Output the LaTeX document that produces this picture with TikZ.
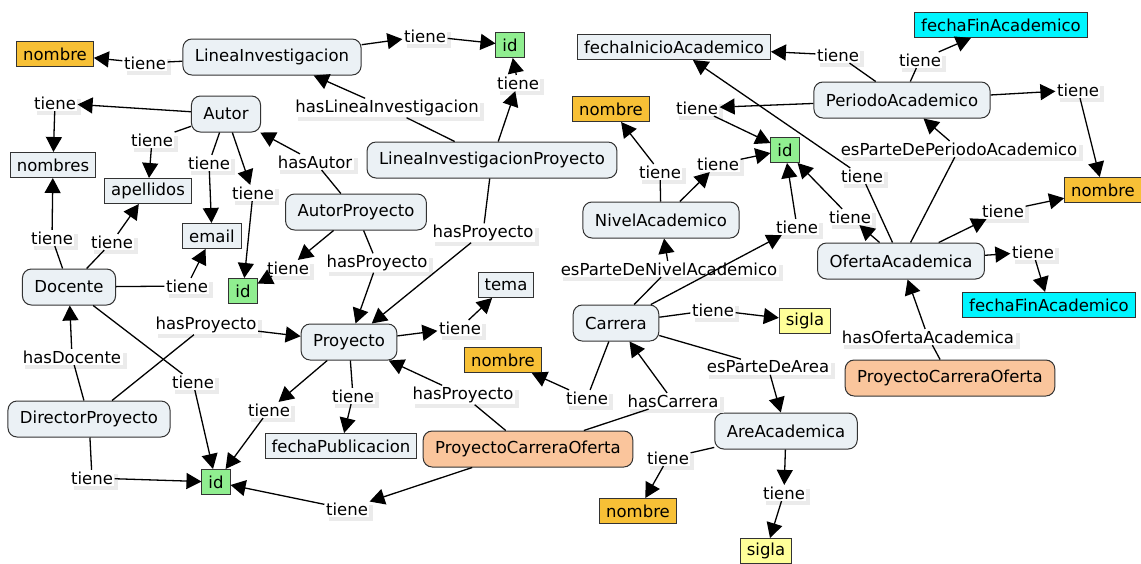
\documentclass[tikz,border=0pt]{standalone}
\usepackage{fontspec}
\setmainfont{DejaVu Sans}
\usetikzlibrary{arrows.meta,shadows}

\definecolor{conceptfill}{HTML}{EBF1F5}
\definecolor{ofertafill}{HTML}{FAC59C}
\definecolor{nombrefill}{HTML}{F7C036}
\definecolor{idfill}{HTML}{90EE90}
\definecolor{siglafill}{HTML}{FFFF99}
\definecolor{fechafill}{HTML}{00F5FF}

\begin{document}
\begin{tikzpicture}[x=1pt, y=-1pt,
        txt/.style={font=\fontsize{16.5}{19}\selectfont},
        concept/.style={txt, draw=black!80, line width=1pt, fill=conceptfill, rounded corners=9pt, inner xsep=12pt, minimum height=36pt},
        attr/.style={txt, draw=black!80, line width=1pt, fill=conceptfill, inner xsep=6.5pt, inner ysep=1pt, minimum height=25pt},
        phrase/.style={txt, fill=white, inner sep=1.5pt, general shadow={fill=black!8, shadow xshift=4pt, shadow yshift=-4pt}},
        link/.style={line width=1.3pt},
        arr/.style={line width=1.3pt, -{Triangle[length=15pt,width=16pt]}}]

        \useasboundingbox (0,0) rectangle (1141,563);

                % Concepts
                \node[concept] (li) at (272, 57) {LineaInvestigacion};
                \node[concept] (autor) at (226, 114) {Autor};
                \node[concept] (lip) at (492, 160) {LineaInvestigacionProyecto};
                \node[concept] (autorp) at (356, 212) {AutorProyecto};
                \node[concept] (docente) at (69, 287) {Docente};
                \node[concept] (proy) at (349, 342) {Proyecto};
                \node[concept] (director) at (89, 419) {DirectorProyecto};
                \node[concept] (nivel) at (661, 220) {NivelAcademico};
                \node[concept] (carrera) at (616, 323) {Carrera};
                \node[concept] (area) at (786, 431) {AreAcademica};
                \node[concept] (periodo) at (902, 100) {PeriodoAcademico};
                \node[concept] (oferta) at (901, 261) {OfertaAcademica};
                \node[concept, fill=ofertafill] (pco) at (528, 449) {ProyectoCarreraOferta};
                \node[concept, fill=ofertafill] (pcob) at (950, 378) {ProyectoCarreraOferta};

                % Attributes
                \node[attr, fill=nombrefill] (nombreA) at (55, 54) {nombre};
                \node[attr, fill=idfill] (idA) at (510, 45) {id};
                \node[attr] (nombres) at (53, 165) {nombres};
                \node[attr] (apellidos) at (148, 191) {apellidos};
                \node[attr] (email) at (212, 236) {email};
                \node[attr, fill=idfill] (idB) at (243, 291) {id};
                \node[attr] (tema) at (506, 285) {tema};
                \node[attr] (fechaPub) at (341, 446) {fechaPublicacion};
                \node[attr, fill=idfill] (idC) at (216, 482) {id};
                \node[attr, fill=nombrefill] (nombreB) at (503, 360) {nombre};
                \node[attr, fill=nombrefill] (nombreC) at (611, 109) {nombre};
                \node[attr, fill=nombrefill] (nombreD) at (638, 511) {nombre};
                \node[attr, fill=siglafill] (siglaA) at (805, 321) {sigla};
                \node[attr, fill=siglafill] (siglaB) at (766, 551) {sigla};
                \node[attr] (fIni) at (674, 47) {fechaInicioAcademico};
                \node[attr, fill=fechafill] (fFinA) at (1001, 25) {fechaFinAcademico};
                \node[attr, fill=idfill] (idD) at (785, 150) {id};
                \node[attr, fill=nombrefill] (nombreE) at (1103, 190) {nombre};
                \node[attr, fill=fechafill] (fFinB) at (1049, 305) {fechaFinAcademico};

                % Linking phrases
                \node[phrase] (l1) at (145, 63) {tiene};
                \node[phrase] (l2) at (425, 36) {tiene};
                \node[phrase] (l3) at (387, 108) {hasLineaInvestigacion};
                \node[phrase] (l4) at (518, 83) {tiene};
                \node[phrase] (l5) at (483, 233) {hasProyecto};
                \node[phrase] (l6) at (55, 103) {tiene};
                \node[phrase] (l7) at (152, 140) {tiene};
                \node[phrase] (l8) at (209, 163) {tiene};
                \node[phrase] (l9) at (253, 193) {tiene};
                \node[phrase] (l10) at (315, 162) {hasAutor};
                \node[phrase] (l11) at (288, 268) {tiene};
                \node[phrase] (l12) at (377, 263) {hasProyecto};
                \node[phrase] (l13) at (52, 238) {tiene};
                \node[phrase] (l14) at (112, 242) {tiene};
                \node[phrase] (l15) at (187, 286) {tiene};
                \node[phrase] (l16) at (193, 382) {tiene};
                \node[phrase] (l17) at (72, 357) {hasDocente};
                \node[phrase] (l18) at (206, 325) {hasProyecto};
                \node[phrase] (l19) at (92, 478) {tiene};
                \node[phrase] (l20) at (269, 410) {tiene};
                \node[phrase] (l21) at (353, 396) {tiene};
                \node[phrase] (l22) at (460, 328) {tiene};
                \node[phrase] (l23) at (463, 395) {hasProyecto};
                \node[phrase] (l24) at (347, 509) {tiene};
                \node[phrase] (l25) at (673, 401) {hasCarrera};
                \node[phrase] (l26) at (587, 398) {tiene};
                \node[phrase] (l27) at (669, 269) {esParteDeNivelAcademico};
                \node[phrase] (l28) at (797, 227) {tiene};
                \node[phrase] (l29) at (713, 310) {tiene};
                \node[phrase] (l30) at (768, 367) {esParteDeArea};
                \node[phrase] (l31) at (668, 458) {tiene};
                \node[phrase] (l32) at (784, 493) {tiene};
                \node[phrase] (l33) at (660, 172) {tiene};
                \node[phrase] (l34) at (718, 164) {tiene};
                \node[phrase] (l35) at (838, 55) {tiene};
                \node[phrase] (l36) at (920, 60) {tiene};
                \node[phrase] (l37) at (1078, 90) {tiene};
                \node[phrase] (l38) at (697, 108) {tiene};
                \node[phrase] (l39) at (862, 176) {tiene};
                \node[phrase] (l40) at (959, 149) {esParteDePeriodoAcademico};
                \node[phrase] (l41) at (850, 217) {tiene};
                \node[phrase] (l42) at (1003, 211) {tiene};
                \node[phrase] (l43) at (1033, 252) {tiene};
                \node[phrase] (l44) at (928, 337) {hasOfertaAcademica};

                % Edges
                \draw[link] (li) -- (l1);       \draw[arr] (l1) -- (nombreA);
                \draw[arr] (li) -- (l2);        \draw[arr] (l2) -- (idA);
                \draw[link] (lip) -- (l3);      \draw[arr] (l3) -- (li);
                \draw[arr] (lip) -- (l4);       \draw[arr] (l4) -- (idA);
                \draw[link] (lip) -- (l5);      \draw[arr] (l5) -- (proy);
                \draw[arr] (autor) -- (l6);     \draw[arr] (l6) -- (nombres);
                \draw[link] (autor) -- (l7);    \draw[arr] (l7) -- (apellidos);
                \draw[link] (autor) -- (l8);    \draw[arr] (l8) -- (email);
                \draw[arr] (autor) -- (l9);     \draw[arr] (l9) -- (idB);
                \draw[link] (autorp) -- (l10);  \draw[arr] (l10) -- (autor);
                \draw[arr] (autorp) -- (l11);   \draw[arr] (l11) -- (idB);
                \draw[link] (autorp) -- (l12);  \draw[arr] (l12) -- (proy);
                \draw[link] (docente) -- (l13); \draw[arr] (l13) -- (nombres);
                \draw[link] (docente) -- (l14); \draw[arr] (l14) -- (apellidos);
                \draw[link] (docente) -- (l15); \draw[arr] (l15) -- (email);
                \draw[link] (docente) -- (l16); \draw[arr] (l16) -- (idC);
                \draw[link] (director) -- (l17); \draw[arr] (l17) -- (docente);
                \draw[link] (director) -- (l18); \draw[arr] (l18) -- (proy);
                \draw[link] (director) -- (l19); \draw[arr] (l19) -- (idC);
                \draw[arr] (proy) -- (l20);     \draw[arr] (l20) -- (idC);
                \draw[link] (proy) -- (l21);    \draw[arr] (l21) -- (fechaPub);
                \draw[arr] (proy) -- (l22);     \draw[arr] (l22) -- (tema);
                \draw[link] (pco) -- (l23);     \draw[arr] (l23) -- (proy);
                \draw[arr] (pco) -- (l24);      \draw[arr] (l24) -- (idC);
                \draw[link] (pco) -- (l25);     \draw[arr] (l25) -- (carrera);
                \draw[link] (carrera) -- (l26); \draw[arr] (l26) -- (nombreB);
                \draw[link] (carrera) -- (l27); \draw[arr] (l27) -- (nivel);
                \draw[arr] (carrera) -- (l28);  \draw[arr] (l28) -- (idD);
                \draw[link] (carrera) -- (l29); \draw[arr] (l29) -- (siglaA);
                \draw[link] (carrera) -- (l30); \draw[arr] (l30) -- (area);
                \draw[link] (area) -- (l31);    \draw[arr] (l31) -- (nombreD);
                \draw[arr] (area) -- (l32);     \draw[arr] (l32) -- (siglaB);
                \draw[link] (nivel) -- (l33);   \draw[arr] (l33) -- (nombreC);
                \draw[arr] (nivel) -- (l34);    \draw[arr] (l34) -- (idD);
                \draw[link] (periodo) -- (l35); \draw[arr] (l35) -- (fIni);
                \draw[link] (periodo) -- (l36); \draw[arr] (l36) -- (fFinA);
                \draw[arr] (periodo) -- (l37);  \draw[arr] (l37) -- (nombreE);
                \draw[arr] (periodo) -- (l38);  \draw[arr] (l38) -- (idD);
                \draw[link] (oferta) -- (l39);  \draw[arr] (l39) -- (fIni);
                \draw[link] (oferta) -- (l40);  \draw[arr] (l40) -- (periodo);
                \draw[arr] (oferta) -- (l41);   \draw[arr] (l41) -- (idD);
                \draw[arr] (oferta) -- (l42);   \draw[arr] (l42) -- (nombreE);
                \draw[arr] (oferta) -- (l43);   \draw[arr] (l43) -- (fFinB);
                \draw[link] (pcob) -- (l44);    \draw[arr] (l44) -- (oferta);

            \end{tikzpicture}
\end{document}
